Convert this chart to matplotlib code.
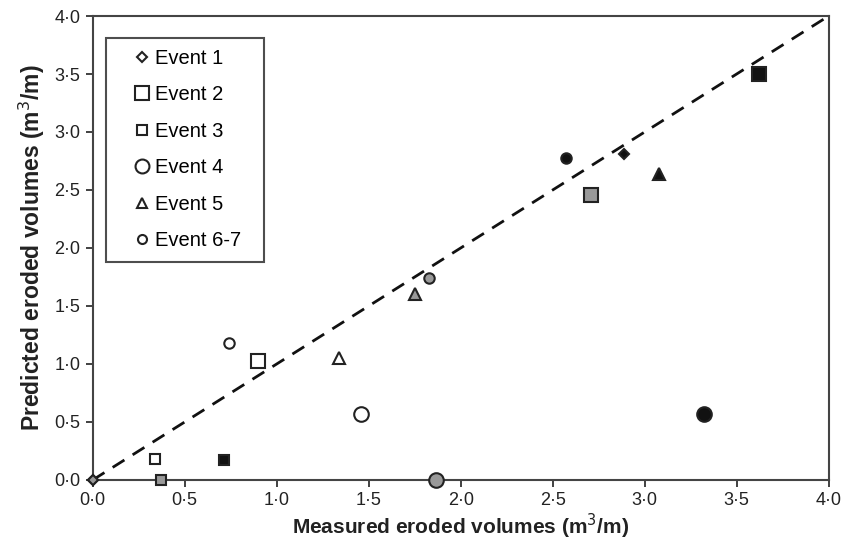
import matplotlib
matplotlib.use("Agg")
import matplotlib.pyplot as plt
from matplotlib.lines import Line2D

plt.rcParams['font.family'] = ['Liberation Sans', 'DejaVu Sans']

events = ["Event 1", "Event 2", "Event 3", "Event 4", "Event 5", "Event 6-7"]
markers = ["D", "s", "s", "o", "^", "o"]
msizes = [5.5, 10, 7, 10.5, 8.5, 7.5]
leg_sizes = [5, 10.5, 7, 10, 7.5, 6.5]
fill_colors = ["white", "#999999", "#111111"]

# values per event for white, grey, black variants
measured = {
    "Event 1": [0.0, 0.0, 2.89],
    "Event 2": [0.90, 2.71, 3.62],
    "Event 3": [0.34, 0.37, 0.715],
    "Event 4": [1.46, 1.865, 3.32],
    "Event 5": [1.34, 1.75, 3.08],
    "Event 6-7": [0.74, 1.83, 2.57],
}
predicted = {
    "Event 1": [0.0, 0.0, 2.81],
    "Event 2": [1.03, 2.46, 3.50],
    "Event 3": [0.18, 0.0, 0.17],
    "Event 4": [0.57, 0.0, 0.57],
    "Event 5": [1.05, 1.60, 2.64],
    "Event 6-7": [1.18, 1.74, 2.78],
}
ticks = [0, 0.5, 1.0, 1.5, 2.0, 2.5, 3.0, 3.5, 4.0]
tick_labels = [f"{t:.1f}".replace(".", "\u00b7") for t in ticks]
line_x = [0, 4]
line_y = [0, 4]

fig = plt.figure(figsize=(8.48, 5.48), dpi=100)
ax = fig.add_axes([0.1093, 0.1241, 0.8679, 0.8467])

ax.plot(line_x, line_y, ls=(0, (5, 3.5)), color="#111111", lw=2, zorder=2)

for ev, m, ms in zip(events, markers, msizes):
    for i, fc in enumerate(fill_colors):
        ax.plot(measured[ev][i], predicted[ev][i], marker=m, ms=ms,
                mfc=fc, mec="#222222", mew=1.5, ls="none", zorder=3 + i, clip_on=False)

ax.set_xlim(0, 4)
ax.set_ylim(0, 4)
ax.set_xticks(ticks)
ax.set_yticks(ticks)
ax.set_xticklabels(tick_labels)
ax.set_yticklabels(tick_labels)
ax.tick_params(direction="out", length=5, width=1.3, color="#333333",
               labelsize=13, labelcolor="#222222", pad=4)
for s in ax.spines.values():
    s.set_linewidth(1.5)
    s.set_color("#444444")

ax.set_xlabel("Measured eroded volumes (m$^3$/m)", fontsize=15, fontweight="bold",
              color="#222222", labelpad=2)
ax.set_ylabel("Predicted eroded volumes (m$^3$/m)", fontsize=16.5, fontweight="bold",
              color="#222222", labelpad=5)

handles = []
for ev, m, ms in zip(events, markers, leg_sizes):
    handles.append(Line2D([], [], marker=m, ms=ms, mfc="white", mec="#222222",
                          mew=1.5, ls="none", label=ev))
leg = ax.legend(handles=handles, loc="upper left",
                bbox_to_anchor=(0.018, 0.953, 0.2147, 0.0), mode="expand",
                frameon=True, fancybox=False, fontsize=14.5, labelspacing=0.87,
                handlelength=2.5, handletextpad=-0.6, borderpad=0.55,
                borderaxespad=0)
leg.get_frame().set_edgecolor("#222222")
leg.get_frame().set_linewidth(1.5)

fig.savefig("out.png", dpi=100)
